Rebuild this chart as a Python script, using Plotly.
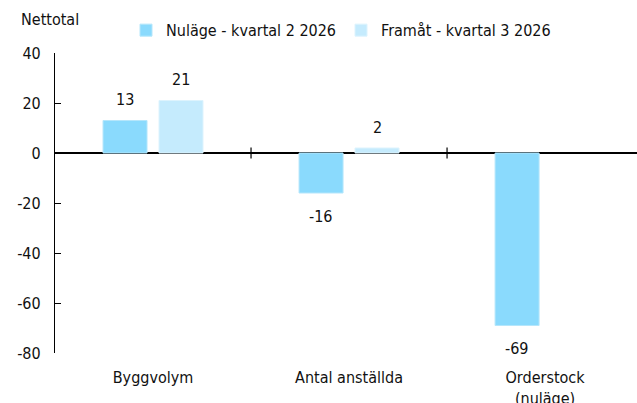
import plotly.graph_objects as go

categories = ["Byggvolym", "Antal anställda", "Orderstock<br>(nuläge)"]
nulage = [13, -16, -69]
framat = [21, 2, None]
series_names = ["Nuläge - kvartal 2 2026", "Framåt - kvartal 3 2026"]
y_ticks = [40, 20, 0, -20, -40, -60, -80]

FONT = "DejaVu Sans Condensed, Liberation Sans Narrow, sans-serif"
FS = 16

fig = go.Figure()
fig.add_trace(go.Bar(
    x=categories, y=nulage, name=series_names[0],
    marker=dict(color="#8ADAFD", line=dict(color="#B5E6FB", width=1)),
))
fig.add_trace(go.Bar(
    x=categories, y=framat, name=series_names[1],
    marker=dict(color="#C5EBFD", line=dict(color="#DDF3FD", width=1)),
))

# value labels
for vals, shift in [(nulage, -28), (framat, 28)]:
    for c, v in zip(categories, vals):
        if v is None:
            continue
        fig.add_annotation(x=c, y=v, text=str(v), xref="x", yref="y",
                           xshift=shift, yshift=(21 if v >= 0 else -23),
                           showarrow=False, xanchor="center", yanchor="middle",
                           font=dict(size=FS, color="#111"))

# category divider ticks on zero line
for xb in [0.5, 1.5]:
    fig.add_shape(type="line", x0=xb, x1=xb, y0=-2.2, y1=2.2, xref="x", yref="y",
                  line=dict(color="black", width=1.2))

fig.add_annotation(text="Nettotal", xref="paper", yref="paper", x=-0.008, y=1.11,
                   xanchor="center", yanchor="middle", showarrow=False,
                   font=dict(size=FS, color="#111"))

fig.update_layout(
    width=637, height=403,
    margin=dict(l=55, r=0, t=53, b=50, autoexpand=False),
    paper_bgcolor="white", plot_bgcolor="white",
    font=dict(family=FONT, size=FS, color="#111"),
    barmode="group", bargap=0.429, bargroupgap=0.214,
    showlegend=True,
    legend=dict(orientation="h", x=0.122, xanchor="left", y=0.925, yref="container",
                yanchor="middle", font=dict(size=FS), itemwidth=30,
                bgcolor="rgba(0,0,0,0)"),
    xaxis=dict(showline=False, ticks="outside", ticklen=10, tickcolor="rgba(0,0,0,0)",
               showgrid=False, zeroline=False, automargin=False,
               tickfont=dict(size=FS), range=[-0.5, 2.469]),
    yaxis=dict(range=[-80, 40], tickvals=y_ticks, ticktext=[str(t) for t in y_ticks],
               ticks="inside", ticklen=6, automargin=False,
               tickcolor="black", showline=True, linecolor="black", linewidth=1.2,
               showgrid=False, zeroline=True, zerolinecolor="black", zerolinewidth=1.5,
               tickfont=dict(size=FS), ticklabelstandoff=10),
)

fig.write_html("out.html", config={"displayModeBar": False},
               post_script="document.body.style.margin='0';document.body.style.overflow='hidden';")
